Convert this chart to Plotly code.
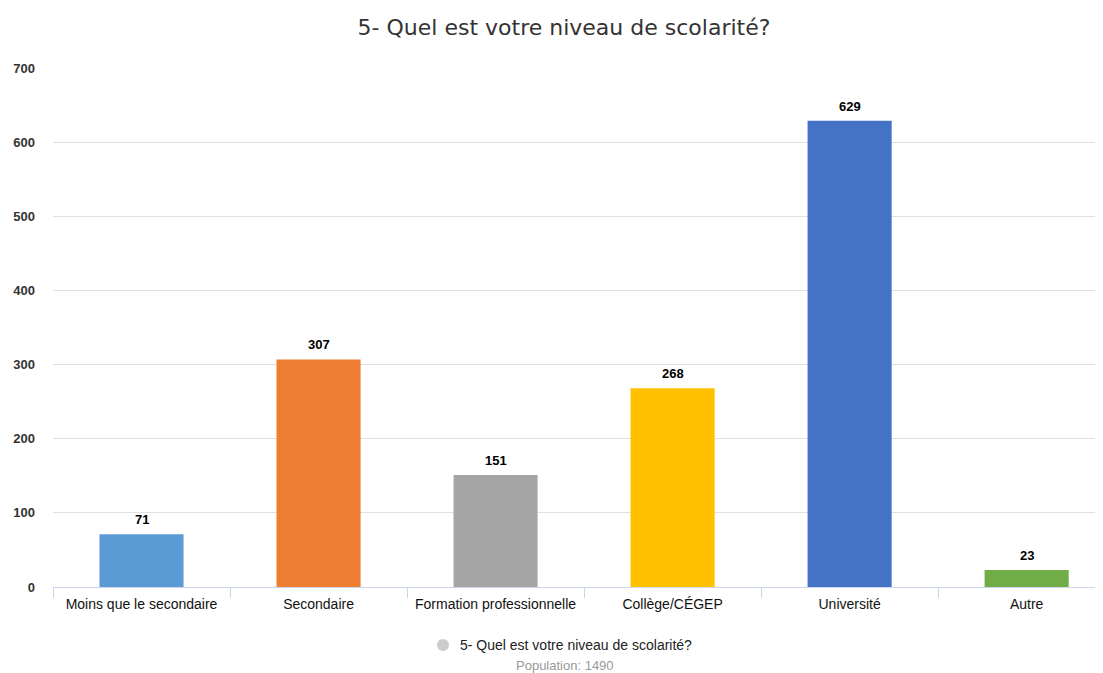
import plotly.graph_objects as go

categories = ["Moins que le secondaire", "Secondaire", "Formation professionnelle",
              "Collège/CÉGEP", "Université", "Autre"]
values = [71, 307, 151, 268, 629, 23]
colors = ["#5B9BD5", "#ED7D31", "#A5A5A5", "#FFC000", "#4472C4", "#70AD47"]
y_ticks = [0, 100, 200, 300, 400, 500, 600, 700]
title_text = "5- Quel est votre niveau de scolarité?"
legend_text = "5- Quel est votre niveau de scolarité?"
population_text = "Population: 1490"

W, H = 1095, 665
L, T, B, R = 45, 60, 86, 2
PW, PH = W - L - R, H - T - B

def px(x):
    return (x - 8 - L) / PW

def py(y):
    return (H - B - (y - 8)) / PH

fig = go.Figure()
fig.add_trace(go.Bar(
    x=categories, y=values, marker=dict(color=colors, line=dict(width=0)),
    width=0.475, showlegend=False, hoverinfo="x+y",
))

for c, v in zip(categories, values):
    fig.add_annotation(x=c, y=v, text=str(v), showarrow=False, yanchor="bottom",
                       yshift=5, font=dict(family="Arial, Liberation Sans", size=13,
                                           color="#000", weight="bold"))

fig.update_layout(
    width=W, height=H,
    margin=dict(l=L, r=R, t=T, b=B),
    paper_bgcolor="white", plot_bgcolor="white",
    title=dict(text=title_text, x=(564 - 8) / W, xanchor="center",
               y=1 - 19 / H, yanchor="middle",
               font=dict(family="DejaVu Sans", size=22, color="#333333")),
    xaxis=dict(
        type="category", range=[-0.5, 5.42], showgrid=False,
        showline=True, linecolor="#ccd6eb", linewidth=1,
        ticks="outside", tickson="boundaries", ticklen=10, tickcolor="#ccd6eb",
        tickfont=dict(family="Arial, Liberation Sans", size=14, color="#111"),
        ticklabelstandoff=4,
        fixedrange=True,
    ),
    yaxis=dict(
        range=[0, 700], tickvals=y_ticks, showgrid=True, gridcolor="#e0e0e0",
        gridwidth=1, zeroline=False, showline=False,
        tickfont=dict(family="Arial, Liberation Sans", size=13, color="#333", weight="bold"),
        ticklabelstandoff=17,
    ),
)

fig.add_shape(type="circle", xref="paper", yref="paper",
              x0=px(437), x1=px(449), y0=py(651), y1=py(639),
              fillcolor="#cccccc", line=dict(width=0))
fig.add_annotation(xref="paper", yref="paper", x=px(458), y=py(645),
                   xanchor="left", yanchor="middle", showarrow=False, text=legend_text,
                   font=dict(family="Arial, Liberation Sans", size=14, color="#222"))
fig.add_annotation(xref="paper", yref="paper", x=px(565), y=py(665),
                   xanchor="center", yanchor="middle", showarrow=False, text=population_text,
                   font=dict(family="Arial, Liberation Sans", size=13, color="#999999"))

fig.write_html("out.html")
